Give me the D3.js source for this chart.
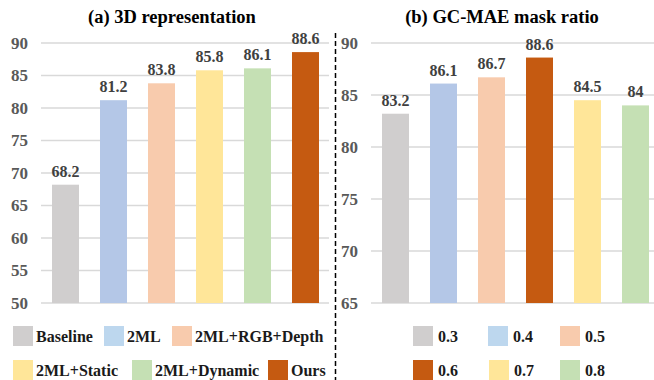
<!DOCTYPE html>
<html><head><meta charset="utf-8">
<script src="https://cdn.jsdelivr.net/npm/d3@7"></script>
<style>body{margin:0;background:#fff}svg{display:block}</style>
</head><body>
<svg id="c" width="654" height="380"></svg>
<script>
const catsA = ["Baseline","2ML","2ML+RGB+Depth","2ML+Static","2ML+Dynamic","Ours"];
const valsA = [68.2,81.2,83.8,85.8,86.1,88.6];
const ticksA = [50,55,60,65,70,75,80,85,90];
const catsB = ["0.3","0.4","0.5","0.6","0.7","0.8"];
const valsB = [83.2,86.1,86.7,88.6,84.5,84];
const ticksB = [65,70,75,80,85,90];
const barColorsA = ["#d0cece","#b4c7e7","#f8cbad","#ffe699","#c5e0b4","#c55a11"];
const legColorsA = ["#d0cece","#bdd7ee","#f8cbad","#ffe699","#c5e0b4","#c55a11"];
const barColorsB = ["#d0cece","#b4c7e7","#f8cbad","#c55a11","#ffe699","#c5e0b4"];
const legColorsB = ["#d0cece","#bdd7ee","#f8cbad","#c55a11","#ffe699","#c5e0b4"];

const svg = d3.select("#c");
const FONT = "'Liberation Serif','Times New Roman',serif";

function panel(o){
  const g = svg.append("g");
  const x = d3.scaleBand().domain(o.cats).range(o.xr).paddingInner(0.4375).paddingOuter(0.21875);
  const y = d3.scaleLinear().domain(o.dom).range([303,43]);
  // gridlines
  g.selectAll(".grid").data(o.ticks).join("line")
    .attr("x1",o.gx[0]).attr("x2",o.gx[1])
    .attr("y1",d=>y(d)).attr("y2",d=>y(d))
    .attr("stroke","#d9d9d9").attr("stroke-width",1.3);
  // axis labels
  const ax = d3.axisLeft(y).tickValues(o.ticks).tickSize(0).tickPadding(0);
  const axg = g.append("g").attr("transform",`translate(${o.tx},0)`).call(ax);
  axg.select(".domain").remove();
  axg.selectAll("text").attr("font-family",FONT).attr("font-weight","bold")
    .attr("font-size",17).attr("fill","#595959");
  // bars
  g.selectAll(".bar").data(o.vals).join("rect")
    .attr("x",(d,i)=>x(o.cats[i])).attr("width",x.bandwidth())
    .attr("y",d=>y(d)).attr("height",d=>y(o.dom[0])-y(d))
    .attr("fill",(d,i)=>o.colors[i]);
  // value labels
  g.selectAll(".val").data(o.vals).join("text")
    .attr("x",(d,i)=>x(o.cats[i])+x.bandwidth()/2).attr("y",d=>y(d)-8)
    .attr("text-anchor","middle").attr("font-family",FONT).attr("font-weight","bold")
    .attr("font-size",16).attr("fill","#404040").text(d=>d);
  // title
  g.append("text").attr("x",o.titleX).attr("y",23).attr("text-anchor","middle")
    .attr("font-family",FONT).attr("font-weight","bold").attr("font-size",18.5)
    .attr("fill","#000").text(o.title);
  // legend
  const lg = g.selectAll(".leg").data(o.cats).join("g")
    .attr("transform",(d,i)=>`translate(${o.legPos[i][0]},${o.legPos[i][1]})`);
  lg.append("rect").attr("width",20).attr("height",20).attr("fill",(d,i)=>o.legColors[i]);
  lg.append("text").attr("x",o.legGap).attr("y",15.5).attr("font-family",FONT)
    .attr("font-weight","bold").attr("font-size",16).attr("fill","#1a1a1a").text(d=>d);
}

panel({cats:catsA, vals:valsA, ticks:ticksA, dom:[50,90], xr:[41.5,329.5], gx:[41,329], tx:28,
  colors:barColorsA, legColors:legColorsA, title:"(a) 3D representation", titleX:172,
  legPos:[[13,326],[104,326],[172,326],[13,360],[132,360],[268,360]], legGap:23});
panel({cats:catsB, vals:valsB, ticks:ticksB, dom:[65,90], xr:[371.5,659.5], gx:[371,654], tx:358,
  colors:barColorsB, legColors:legColorsB, title:"(b) GC-MAE mask ratio", titleX:502,
  legPos:[[413,326],[488,326],[560,326],[413,360],[489,360],[560,360]], legGap:25});

// divider
svg.append("line").attr("x1",335.5).attr("x2",335.5).attr("y1",33).attr("y2",380)
  .attr("stroke","#000").attr("stroke-width",1.5).attr("stroke-dasharray","5,3");
</script>
</body></html>
